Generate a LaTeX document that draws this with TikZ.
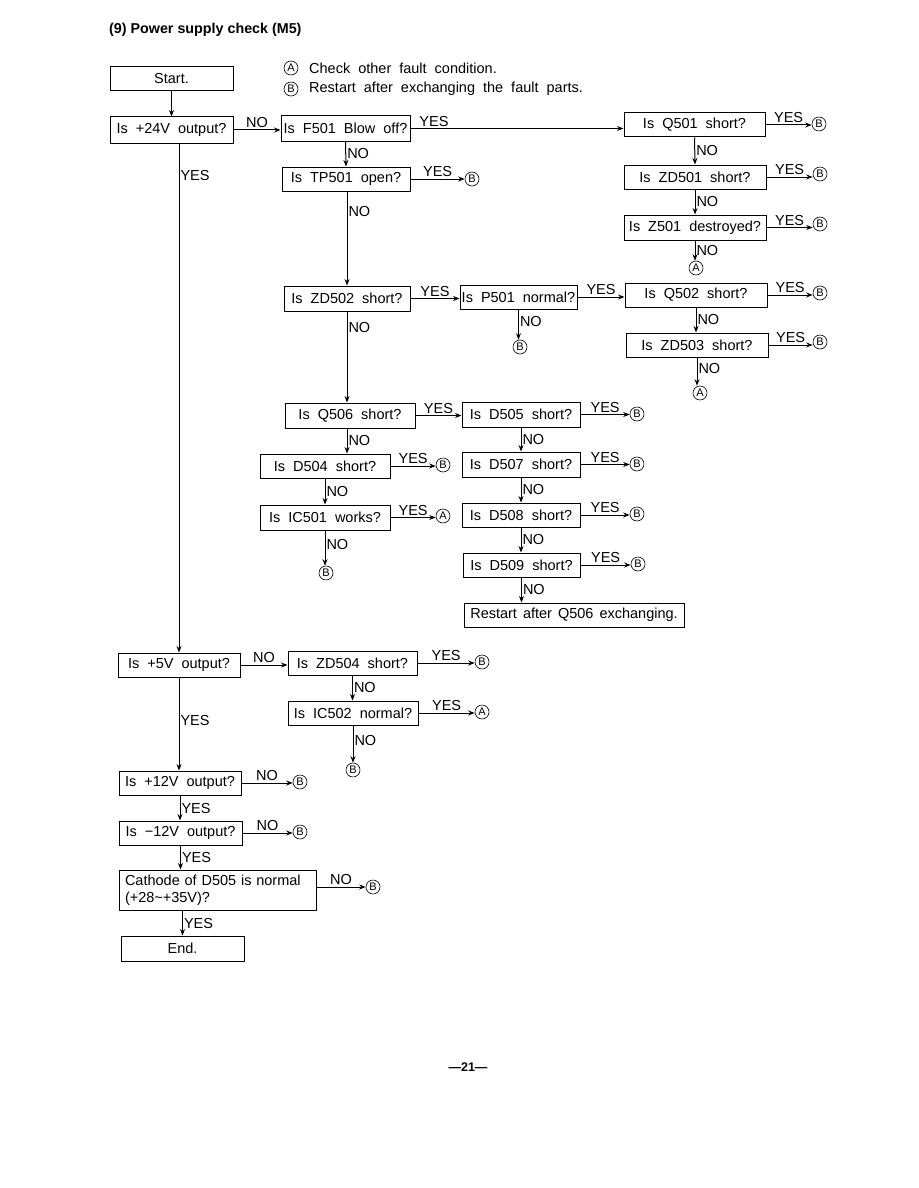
\documentclass[tikz,border=0pt]{standalone}
\usepackage{fontspec}
\setmainfont{Liberation Sans}
\usetikzlibrary{arrows.meta}
\newcommand{\fsz}{\fontsize{14.5}{16.5}\selectfont\spaceskip=8pt plus 1pt minus 1.5pt\relax}
\newcommand{\fszn}{\fontsize{14.5}{16.5}\selectfont\spaceskip=6pt plus 1pt minus 1pt\relax}
\tikzset{
  box/.style={draw, line width=1pt, minimum height=24pt, inner sep=0pt, font=\fsz},
  arr/.style={-{Stealth[length=6.5pt,width=5pt]}, line width=1pt},
  ya/.style={above, inner sep=1.5pt, font=\fsz},
  xa/.style={right, inner sep=1pt, font=\fsz},
  circ/.style={circle, draw, line width=0.6pt, minimum size=14pt, inner sep=0pt, font=\fontsize{11}{12}\selectfont},
}
\begin{document}
\begin{tikzpicture}[x=1pt,y=-1pt]
\useasboundingbox (0,0) rectangle (918,1188);
\fill[white] (0,0) rectangle (918,1188);

% title and legend
\node[anchor=west, inner sep=0pt, font=\bfseries\fontsize{14.3}{16}\selectfont] (title) at (109,30) {(9) Power supply check (M5)};
\node[circ] (legA) at (291,68) {A};
\node[anchor=west, inner sep=0pt, font=\fsz] (legAt) at (309,68) {Check other fault condition.};
\node[circ] (legB) at (291,89) {B};
\node[anchor=west, inner sep=0pt, font=\fsz] (legBt) at (309,89) {Restart after exchanging the fault parts.};

% boxes
\node[box, minimum width=123pt] (start) at (171.5,79) {Start.};
\node[box, minimum width=123pt, minimum height=26pt] (q24) at (171.5,130) {Is +24V output?};
\node[box, minimum width=129pt, minimum height=25pt] (f501) at (345.5,128.5) {Is F501 Blow off?};
\node[box, minimum width=141pt] (q501) at (694.5,125) {Is Q501 short?};
\node[box, minimum width=142pt] (zd501) at (695,177) {Is ZD501 short?};
\node[box, minimum width=142pt, minimum height=25pt] (z501) at (695,227.5) {Is Z501 destroyed?};
\node[box, minimum width=128pt] (tp501) at (346,179) {Is TP501 open?};
\node[box, minimum width=126pt, minimum height=25pt] (zd502) at (347,298.5) {Is ZD502 short?};
\node[box, minimum width=117pt] (p501) at (518.5,297) {Is P501 normal?};
\node[box, minimum width=142pt] (q502) at (696,295) {Is Q502 short?};
\node[box, minimum width=142pt] (zd503) at (697,345) {Is ZD503 short?};
\node[box, minimum width=130pt, minimum height=25pt] (q506) at (350,415.5) {Is Q506 short?};
\node[box, minimum width=118pt, minimum height=25pt] (d505) at (521,414.5) {Is D505 short?};
\node[box, minimum width=130pt] (d504) at (325,466) {Is D504 short?};
\node[box, minimum width=130pt, minimum height=25pt] (ic501) at (325,517.5) {Is IC501 works?};
\node[box, minimum width=118pt, minimum height=25pt] (d507) at (521,464.5) {Is D507 short?};
\node[box, minimum width=118pt] (d508) at (521,515) {Is D508 short?};
\node[box, minimum width=117pt] (d509) at (521.5,565) {Is D509 short?};
\node[box, minimum width=220pt, font=\fszn] (restart) at (574,615) {Restart after Q506 exchanging.};
\node[box, minimum width=122pt] (q5) at (179,665) {Is +5V output?};
\node[box, minimum width=129pt] (zd504) at (352.5,663) {Is ZD504 short?};
\node[box, minimum width=130pt] (ic502) at (353,713) {Is IC502 normal?};
\node[box, minimum width=122pt] (q12) at (180,783) {Is +12V output?};
\node[box, minimum width=123pt] (qm12) at (180.5,833) {Is −12V output?};
\node[box, text width=185pt, inner xsep=6pt, inner ysep=2pt, minimum height=40pt, align=left] (cath) at (217.5,890) {Cathode of D505 is normal\\(+28\textasciitilde+35V)?};
\node[box, minimum width=123pt, minimum height=25pt] (end) at (182.5,948.5) {End.};

% circled end markers
\node[circ] (cB1) at (819,124) {B};
\node[circ] (cB2) at (820,174) {B};
\node[circ] (cB3) at (820,224) {B};
\node[circ] (cA1) at (696,268) {A};
\node[circ] (cB4) at (472,179) {B};
\node[circ] (cB5) at (820,293) {B};
\node[circ] (cB6) at (820,342) {B};
\node[circ] (cA2) at (700,393) {A};
\node[circ] (cB7) at (520,347) {B};
\node[circ] (cB8) at (637,414) {B};
\node[circ] (cB9) at (637,464) {B};
\node[circ] (cB10) at (637,514) {B};
\node[circ] (cB11) at (638,564) {B};
\node[circ] (cB12) at (443,465) {B};
\node[circ] (cA3) at (443,516) {A};
\node[circ] (cB13) at (326,573) {B};
\node[circ] (cB14) at (482,662) {B};
\node[circ] (cA4) at (482,712) {A};
\node[circ] (cB15) at (353,770) {B};
\node[circ] (cB16) at (300,782) {B};
\node[circ] (cB17) at (300,832) {B};
\node[circ] (cB18) at (373,887) {B};

% connectors
\draw[arr] (start.south) -- (start.south |- q24.north);
\draw[arr] (q24.east) -- node[ya]{NO} (q24.east -| f501.west);
\draw[arr] (f501.east) -- node[ya, pos=0.11]{YES} (f501.east -| q501.west);
\draw[arr] (q501.east) -- node[ya]{YES} (q501.east -| cB1.west);
\draw[arr] (q501.south) -- node[xa]{NO} (zd501.north);
\draw[arr] (zd501.east) -- node[ya]{YES} (zd501.east -| cB2.west);
\draw[arr] (zd501.south) -- node[xa]{NO} (z501.north);
\draw[arr] (z501.east) -- node[ya]{YES} (z501.east -| cB3.west);
\draw[arr] (z501.south) -- node[xa]{NO} (z501.south |- cA1.north);
\draw[arr] (f501.south) -- node[xa]{NO} (tp501.north);
\draw[arr] (tp501.east) -- node[ya]{YES} (tp501.east -| cB4.west);
\draw[arr] (tp501.south -| zd502.north) -- node[xa, pos=0.21]{NO} (zd502.north);
\draw[arr] (zd502.east) -- node[ya]{YES} (zd502.east -| p501.west);
\draw[arr] (p501.east) -- node[ya]{YES} (p501.east -| q502.west);
\draw[arr] (q502.east) -- node[ya]{YES} (q502.east -| cB5.west);
\draw[arr] (q502.south) -- node[xa]{NO} (q502.south |- zd503.north);
\draw[arr] (zd503.east) -- node[ya]{YES} (zd503.east -| cB6.west);
\draw[arr] (zd503.south) -- node[xa, pos=0.4]{NO} (zd503.south |- cA2.north);
\draw[arr] (p501.south) -- node[xa, pos=0.4]{NO} (p501.south |- cB7.north);
\draw[arr] (zd502.south) -- node[xa, pos=0.18]{NO} (zd502.south |- q506.north);
\draw[arr] (q506.east) -- node[ya]{YES} (q506.east -| d505.west);
\draw[arr] (d505.east) -- node[ya]{YES} (d505.east -| cB8.west);
\draw[arr] (d505.south) -- node[xa]{NO} (d507.north);
\draw[arr] (d507.east) -- node[ya]{YES} (d507.east -| cB9.west);
\draw[arr] (d507.south) -- node[xa]{NO} (d508.north);
\draw[arr] (d508.east) -- node[ya]{YES} (d508.east -| cB10.west);
\draw[arr] (d508.south) -- node[xa]{NO} (d508.south |- d509.north);
\draw[arr] (d509.east) -- node[ya]{YES} (d509.east -| cB11.west);
\draw[arr] (d509.south) -- node[xa]{NO} (d509.south |- restart.north);
\draw[arr] (q506.south -| zd502.south) -- node[xa]{NO} (zd502.south |- d504.north);
\draw[arr] (d504.east) -- node[ya]{YES} (d504.east -| cB12.west);
\draw[arr] (d504.south) -- node[xa]{NO} (ic501.north);
\draw[arr] (ic501.east) -- node[ya]{YES} (ic501.east -| cA3.west);
\draw[arr] (ic501.south) -- node[xa, pos=0.4]{NO} (ic501.south |- cB13.north);
\draw[arr] (q24.south -| q5.north) -- node[xa, pos=0.063]{YES} (q5.north);
\draw[arr] (q5.east) -- node[ya]{NO} (q5.east -| zd504.west);
\draw[arr] (zd504.east) -- node[ya]{YES} (zd504.east -| cB14.west);
\draw[arr] (zd504.south) -- node[xa]{NO} (zd504.south |- ic502.north);
\draw[arr] (ic502.east) -- node[ya]{YES} (ic502.east -| cA4.west);
\draw[arr] (ic502.south) -- node[xa, pos=0.4]{NO} (ic502.south |- cB15.north);
\draw[arr] (q5.south) -- node[xa, pos=0.46]{YES} (q5.south |- q12.north);
\draw[arr] (q12.east) -- node[ya]{NO} (q12.east -| cB16.west);
\draw[arr] (q12.south) -- node[xa]{YES} (q12.south |- qm12.north);
\draw[arr] (qm12.east) -- node[ya]{NO} (qm12.east -| cB17.west);
\draw[arr] (qm12.south) -- node[xa]{YES} (qm12.south |- cath.north);
\draw[arr] (cath.east |- cB18) -- node[ya]{NO} (cB18.west);
\draw[arr] (cath.south -| end.north) -- node[xa]{YES} (end.north);

% page number
\node[font=\bfseries\fontsize{12.5}{14}\selectfont] (page) at (468,1067) {—21—};
\end{tikzpicture}
\end{document}
